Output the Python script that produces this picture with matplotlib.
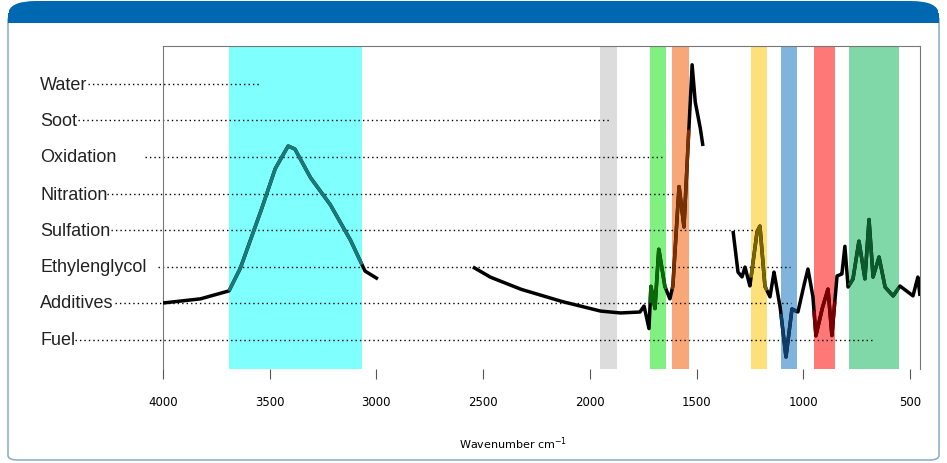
import numpy as np
import matplotlib
matplotlib.use("Agg")
import matplotlib.pyplot as plt
from matplotlib.patches import FancyBboxPatch, Rectangle

# spectrum segments (wavenumber, absorbance arbitrary units)
wn1 = [4000,3827,3691,3639,3546,3475,3414,3382,3311,3218,3124,3054,2993]
ab1 = [66,70,78,100,155,200,223,220,192,165,130,98,90]
wn2 = [2548,2468,2327,2140,1953,1859,1765,1746,1723,1714,1695,1677,1649,1625,1611,1582,1559,1521,1507,1484,1470]
ab2 = [102,92,80,68,58,56,57,63,40,83,60,120,83,70,83,183,142,305,268,243,223]
wn3 = [1329,1306,1287,1273,1250,1217,1203,1180,1156,1137,1109,1081,1053,1025,1001,978,955,941,912,884,866,842,819,805,790,767,739,711,692,673,645,617,579,547,509,486,463,453]
ab3 = [138,97,92,102,83,137,143,83,72,97,63,12,60,57,80,100,73,33,60,80,33,93,95,123,82,90,128,90,150,92,112,82,73,83,77,73,92,73]

# bands: (high wn, low wn, band colour, line colour)
band_hi = [3691,1953,1718,1615,1245,1105,950,786]
band_lo = [3068,1873,1643,1536,1170,1030,852,552]
band_col = ["#80ffff","#dcdcdc","#80f080","#f8a878","#fde07a","#80b4dc","#ff7878","#80d8a8"]
line_col = ["#1a7a7a","black","#0a6a0a","#7a3000","#7a6400","#0d3d6a","#7a0000","#0a5a2e"]

labels = ["Water","Soot","Oxidation","Nitration","Sulfation","Ethylenglycol","Additives","Fuel"]
label_y = [285,249,212,175,139,102,66,29]
dot_start = [4352,4399,4084,4262,4243,4023,4225,4413]
dot_end = [3546,1902,1663,1602,1203,1062,1058,677]
label_x = 4576

fig = plt.figure(figsize=(9.47,4.64), dpi=100)
bg = FancyBboxPatch((8/947,3/464),(931/947),(445/464),boxstyle="round,pad=0,rounding_size=0.01",
    transform=fig.transFigure, fc="white", ec="#8fb0c8", lw=1.2, zorder=-10)
hd = FancyBboxPatch((8/947,440/464),(931/947),(22/464),boxstyle="round,pad=0,rounding_size=0.03",
    transform=fig.transFigure, fc="#0068b0", ec="none", zorder=-9)
hd2 = Rectangle((8/947,440/464),(931/947),(10/464), transform=fig.transFigure, fc="#0068b0", ec="none", zorder=-9)
for p in (bg, hd, hd2):
    fig.patches.append(p)

ax = fig.add_axes([163/947, 94/464, 757/947, 323/464])
ax.patch.set_alpha(0)
ax.set_xlim(4000, 453)
ax.set_ylim(0, 323)
for h,l,c in zip(band_hi, band_lo, band_col):
    ax.axvspan(l, h, color=c, lw=0, zorder=0)

for lab, y, s, e in zip(labels, label_y, dot_start, dot_end):
    ax.plot([s, e], [y, y], ls=(0,(1,2.2)), color="black", lw=1, clip_on=False, zorder=1)
    ax.text(label_x, y, lab, ha="left", va="center", fontsize=13,
            family="Liberation Sans", color="#222222", clip_on=False)

def draw(wn, ab):
    wn = np.array(wn, float); ab = np.array(ab, float)
    xs = np.linspace(wn[0], wn[-1], 2000)
    ys = np.interp(xs[::-1], wn[::-1], ab[::-1])[::-1]
    ax.plot(xs, ys, color="black", lw=2.5, zorder=3, solid_capstyle="butt")
    for h,l,lc in zip(band_hi, band_lo, line_col):
        m = (xs <= h) & (xs >= l)
        if m.sum() > 1 and lc != "black":
            ax.plot(xs[m], ys[m], color=lc, lw=2.5, zorder=4, solid_capstyle="butt")
draw(wn1, ab1); draw(wn2, ab2); draw(wn3, ab3)

for sp in ["top","right","left"]:
    ax.spines[sp].set_color("#777777")
ax.spines["bottom"].set_visible(False)
ax.set_yticks([])
ax.set_xticks([4000,3500,3000,2500,2000,1500,1000,500])
ax.tick_params(axis="x", labelsize=8.5, length=7, color="#555555", pad=12)
fig.text(513/947, 20/464, "Wavenumber cm$^{-1}$", ha="center", va="center", fontsize=8)
fig.savefig("out.png", dpi=100)
